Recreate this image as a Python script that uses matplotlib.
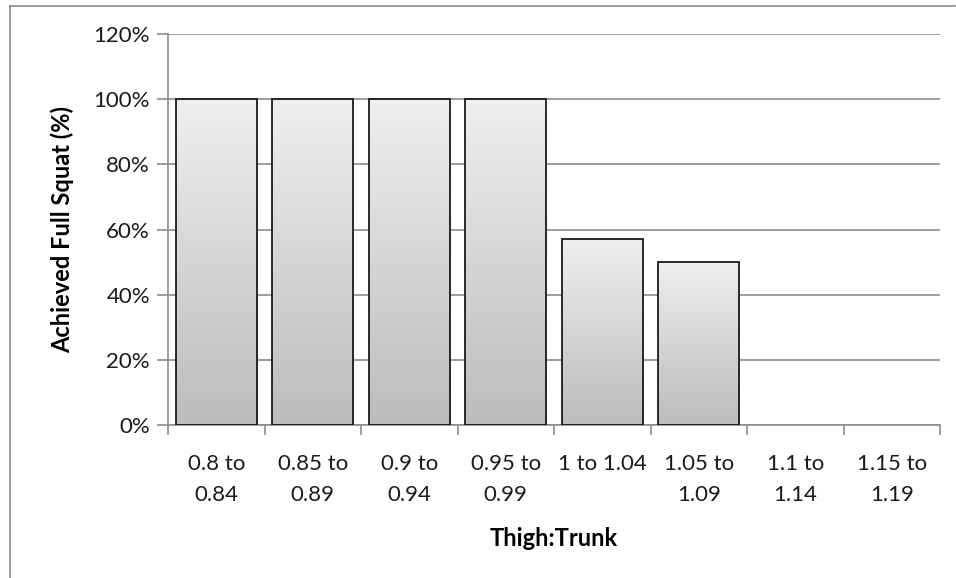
import matplotlib.pyplot as plt
import numpy as np
from matplotlib.lines import Line2D

# --- Data ---
categories = ["0.8 to\n0.84", "0.85 to\n0.89", "0.9 to\n0.94", "0.95 to\n0.99",
              "1 to 1.04", "1.05 to\n1.09", "1.1 to\n1.14", "1.15 to\n1.19"]
achieved = [100, 100, 100, 100, 57.1, 50, 0, 0]

plt.rcParams['font.family'] = ['Lato', 'DejaVu Sans']

W, H = 956, 578
fig = plt.figure(figsize=(W / 100, H / 100), dpi=100)
ax = fig.add_axes([168 / W, 1 - 425 / H, (940 - 168) / W, (425 - 34) / H])

x = np.arange(len(categories))
bars = ax.bar(x, achieved, width=0.84, facecolor="none", edgecolor="#1a1a1a",
              linewidth=1.3, zorder=3)

# vertical gradient fill for each bar
grad = np.linspace(0, 1, 256).reshape(-1, 1)
cmap = plt.matplotlib.colors.LinearSegmentedColormap.from_list("g", ["#bcbcbc", "#efefef"])
for b in bars:
    if b.get_height() <= 0:
        b.set_visible(False)
        continue
    x0, y0 = b.get_x(), b.get_y()
    im = ax.imshow(grad, cmap=cmap, aspect="auto", origin="lower",
                   extent=[x0, x0 + b.get_width(), y0, y0 + b.get_height()], zorder=2)
    im.set_clip_path(b)

ax.set_xlim(-0.5, len(categories) - 0.5)
ax.set_ylim(0, 120)
ax.set_yticks(np.arange(0, 121, 20))
ax.set_yticklabels([f"{v}%" for v in range(0, 121, 20)])
ax.yaxis.grid(True, color="#8c8c8c", linewidth=1.2, zorder=1)
ax.set_axisbelow(True)

# category boundary ticks
ax.set_xticks(np.arange(-0.5, len(categories) + 0.5, 1))
ax.set_xticklabels([])
ax.set_xticks(x, minor=True)
ax.set_xticklabels(categories, minor=True, fontsize=16, color="#1a1a1a", linespacing=1.65)
ax.tick_params(axis="x", which="minor", length=0, pad=21)
ax.tick_params(axis="x", which="major", length=7, color="#8c8c8c", width=1.2)
ax.tick_params(axis="y", length=8, color="#8c8c8c", width=1.2, labelsize=16,
               labelcolor="#1a1a1a", pad=5)

for s in ["top", "right"]:
    ax.spines[s].set_visible(False)
for s in ["left", "bottom"]:
    ax.spines[s].set_color("#8c8c8c")
    ax.spines[s].set_linewidth(1.2)

ax.set_ylabel("Achieved Full Squat (%)", fontsize=17, fontweight="bold", labelpad=14)
ax.set_xlabel("Thigh:Trunk", fontsize=17, fontweight="bold", labelpad=16)

# outer frame (top and left only)
fig.add_artist(Line2D([9.5 / W, 955 / W], [1 - 5.5 / H, 1 - 5.5 / H],
                      color="#8c8c8c", linewidth=1.2, transform=fig.transFigure))
fig.add_artist(Line2D([9.5 / W, 9.5 / W], [1 - 5.5 / H, 0],
                      color="#8c8c8c", linewidth=1.2, transform=fig.transFigure))

fig.savefig("out.png", dpi=100)
